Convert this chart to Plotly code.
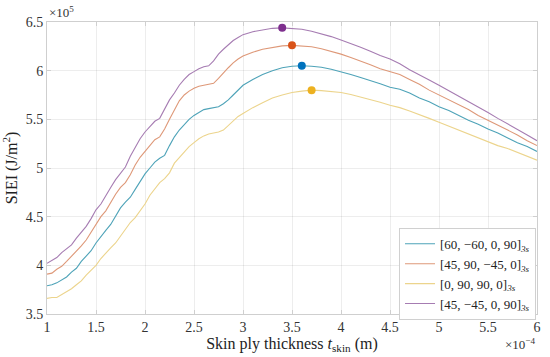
import plotly.graph_objects as go

# x in units of 1e-4 m, y in units of 1e5 J/m^2
x_vals = [1.00, 1.05, 1.10, 1.15, 1.20, 1.25, 1.30, 1.35, 1.40, 1.45,
          1.50, 1.55, 1.60, 1.65, 1.70, 1.75, 1.80, 1.85, 1.90, 1.95,
          2.00, 2.05, 2.10, 2.15, 2.20, 2.25, 2.30, 2.35, 2.40, 2.45,
          2.50, 2.55, 2.60, 2.65, 2.70, 2.75, 2.80, 2.85, 2.90, 2.95,
          3.00, 3.1, 3.2, 3.3, 3.4, 3.5, 3.6, 3.7, 3.8, 3.9,
          4.0, 4.1, 4.2, 4.3, 4.4, 4.5, 4.6, 4.7, 4.8, 4.9,
          5.0, 5.1, 5.2, 5.3, 5.4, 5.5, 5.6, 5.7, 5.8, 5.9, 6.0]

teal = [3.79, 3.80, 3.82, 3.85, 3.88, 3.93, 3.97, 4.04, 4.10, 4.15,
        4.23, 4.30, 4.36, 4.42, 4.51, 4.59, 4.65, 4.70, 4.78, 4.86,
        4.94, 5.00, 5.06, 5.10, 5.13, 5.23, 5.32, 5.39, 5.45, 5.50,
        5.54, 5.57, 5.60, 5.61, 5.62, 5.63, 5.66, 5.70, 5.75, 5.80,
        5.85, 5.91, 5.96, 6.00, 6.03, 6.045, 6.05, 6.045, 6.035, 6.015,
        5.99, 5.96, 5.93, 5.90, 5.865, 5.83, 5.81, 5.77, 5.72, 5.68,
        5.63, 5.59, 5.54, 5.49, 5.45, 5.40, 5.36, 5.31, 5.26, 5.22, 5.17]

orange = [3.91, 3.92, 3.96, 3.99, 4.04, 4.09, 4.14, 4.20, 4.26, 4.34,
          4.43, 4.50, 4.56, 4.65, 4.73, 4.80, 4.85, 4.93, 5.03, 5.11,
          5.17, 5.24, 5.29, 5.32, 5.40, 5.50, 5.60, 5.69, 5.75, 5.79,
          5.82, 5.84, 5.85, 5.86, 5.87, 5.92, 5.98, 6.03, 6.08, 6.12,
          6.15, 6.19, 6.22, 6.24, 6.255, 6.26, 6.255, 6.245, 6.225, 6.20,
          6.17, 6.135, 6.10, 6.06, 6.02, 5.99, 5.96, 5.91, 5.86, 5.80,
          5.75, 5.70, 5.65, 5.60, 5.54, 5.49, 5.44, 5.39, 5.34, 5.28, 5.23]

yellow = [3.66, 3.67, 3.67, 3.70, 3.73, 3.76, 3.80, 3.84, 3.90, 3.95,
          4.00, 4.07, 4.13, 4.18, 4.23, 4.30, 4.38, 4.44, 4.49, 4.56,
          4.63, 4.72, 4.79, 4.85, 4.89, 4.95, 5.05, 5.11, 5.17, 5.22,
          5.26, 5.30, 5.33, 5.35, 5.36, 5.37, 5.39, 5.44, 5.49, 5.53,
          5.56, 5.62, 5.67, 5.72, 5.75, 5.775, 5.79, 5.80, 5.795, 5.785,
          5.775, 5.755, 5.73, 5.70, 5.675, 5.645, 5.62, 5.585, 5.55, 5.51,
          5.47, 5.43, 5.39, 5.35, 5.31, 5.27, 5.23, 5.20, 5.16, 5.12, 5.08]

purple = [4.02, 4.05, 4.08, 4.13, 4.17, 4.21, 4.28, 4.34, 4.40, 4.48,
          4.57, 4.63, 4.72, 4.80, 4.88, 4.95, 5.01, 5.12, 5.21, 5.30,
          5.37, 5.43, 5.48, 5.51, 5.61, 5.70, 5.77, 5.85, 5.91, 5.96,
          5.99, 6.02, 6.04, 6.05, 6.10, 6.17, 6.22, 6.27, 6.31, 6.34,
          6.37, 6.40, 6.42, 6.435, 6.44, 6.435, 6.425, 6.405, 6.38, 6.35,
          6.315, 6.28, 6.24, 6.20, 6.155, 6.12, 6.07, 6.01, 5.96, 5.905,
          5.85, 5.795, 5.74, 5.68, 5.625, 5.57, 5.51, 5.455, 5.395, 5.34, 5.28]

series_names = ["[60, −60, 0, 90]<sub><i>3s</i></sub>",
                "[45, 90, −45, 0]<sub><i>3s</i></sub>",
                "[0, 90, 90, 0]<sub><i>3s</i></sub>",
                "[45, −45, 0, 90]<sub><i>3s</i></sub>"]
series_vals = [teal, orange, yellow, purple]
peak_x = [3.6, 3.5, 3.7, 3.4]
peak_y = [6.05, 6.26, 5.80, 6.44]

x_ticks = [1, 1.5, 2, 2.5, 3, 3.5, 4, 4.5, 5, 5.5, 6]
x_tick_text = ["1", "1.5", "2", "2.5", "3", "3.5", "4", "4.5", "5", "5.5", "6"]
y_ticks = [3.5, 4, 4.5, 5, 5.5, 6, 6.5]
y_tick_text = ["3.5", "4", "4.5", "5", "5.5", "6", "6.5"]

line_colors = ["#4ea3b8", "#de9878", "#ecd48c", "#a67cb2"]
marker_colors = ["#0072BD", "#D95319", "#EDB120", "#7E2F8E"]

FONT = "Liberation Serif"

fig = go.Figure()
for name, vals, lc in zip(series_names, series_vals, line_colors):
    fig.add_trace(go.Scatter(x=x_vals, y=vals, mode="lines", name=name,
                             line=dict(color=lc, width=1.1)))
for px, py, mc in zip(peak_x, peak_y, marker_colors):
    fig.add_trace(go.Scatter(x=[px], y=[py], mode="markers", showlegend=False,
                             marker=dict(color=mc, size=8)))

axis_common = dict(showgrid=True, gridcolor="rgba(0,0,0,0.07)", gridwidth=1,
                   showline=True, linecolor="#cfcfcf", linewidth=1, mirror="ticks",
                   ticks="inside", ticklen=4, tickcolor="#cfcfcf", zeroline=False,
                   tickfont=dict(family=FONT, size=14, color="#333"))

fig.update_xaxes(range=[1, 6], tickvals=x_ticks, ticktext=x_tick_text,
                 title=dict(text="Skin ply thickness <i>t</i><sub>skin</sub> (m)",
                            font=dict(family=FONT, size=16, color="#222"), standoff=0),
                 **axis_common)
fig.update_yaxes(range=[3.5, 6.5], tickvals=y_ticks, ticktext=y_tick_text,
                 title=dict(text="SIEI (J/m<sup>2</sup>)",
                            font=dict(family=FONT, size=16, color="#222"), standoff=6),
                 **axis_common)

fig.add_annotation(text="×10<sup>5</sup>", xref="paper", yref="paper", x=0, y=1,
                   xanchor="left", yanchor="bottom", showarrow=False,
                   font=dict(family=FONT, size=13, color="#333"))
fig.add_annotation(text="×10<sup>−4</sup>", xref="paper", yref="paper", x=1, y=-0.07,
                   xanchor="right", yanchor="top", showarrow=False,
                   font=dict(family=FONT, size=13, color="#333"))

fig.update_layout(width=550, height=357,
                  margin=dict(l=45, r=9, t=22, b=43),
                  paper_bgcolor="white", plot_bgcolor="white",
                  legend=dict(x=0.998, y=0.295, xanchor="right", yanchor="top",
                              bgcolor="white", bordercolor="#d0d0d0", borderwidth=1,
                              font=dict(family=FONT, size=13, color="#222"),
                              itemwidth=30, tracegroupgap=0),
                  showlegend=True)

fig.write_html("out.html", config={"displayModeBar": False},
               post_script="document.body.style.margin='0';")
